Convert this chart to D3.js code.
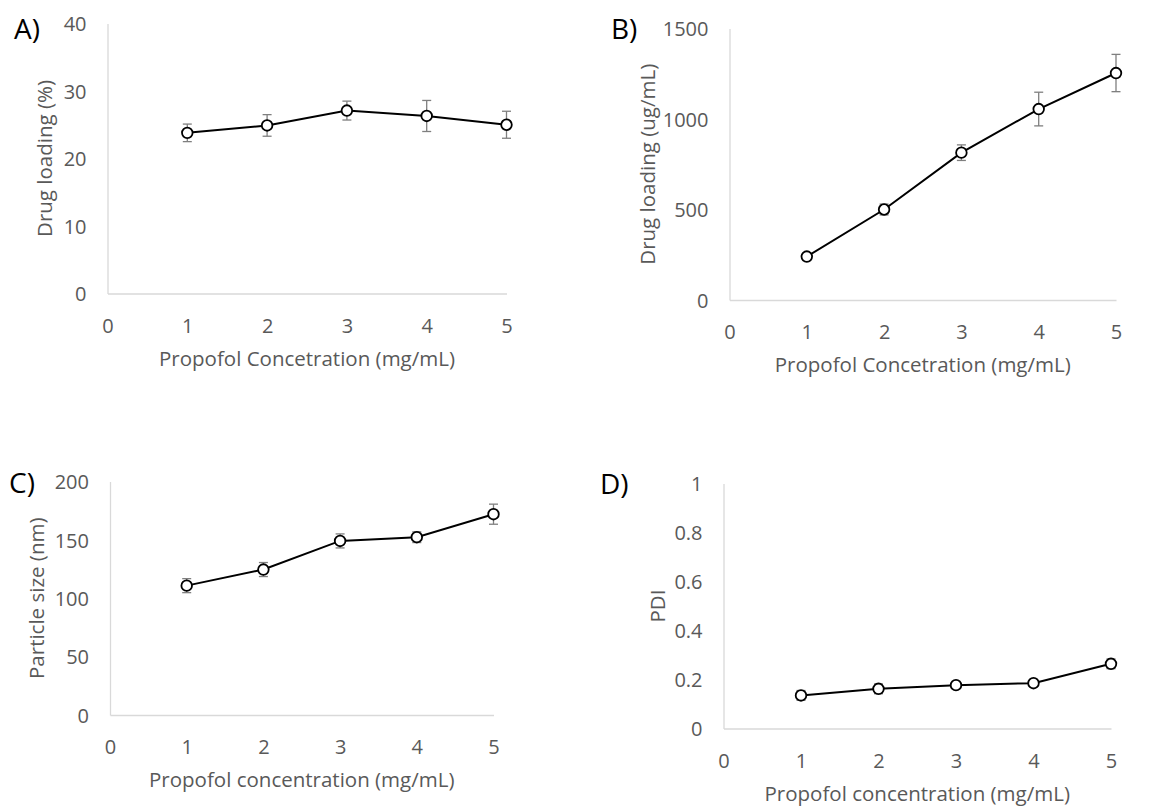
<!DOCTYPE html>
<head>
    <script src="https://d3js.org/d3.v7.min.js"></script>
</head>
<style>
body {
    margin: 0;
    background: #fff;
    font-family: "Open Sans", "Noto Sans", Arial, sans-serif;
}
.tick text { fill: #595959; font-family: "Open Sans", "Noto Sans", Arial, sans-serif; font-size: 20px; }
.domain { stroke: #d9d9d9; stroke-width: 1.3px; }
</style>
<body>
<svg id="fig"></svg>
</body>
<script>

    // Data
    var concentration = [1, 2, 3, 4, 5];
    var xTicks = [0, 1, 2, 3, 4, 5];

    var loadingPct    = [23.8, 24.9, 27.1, 26.3, 25.0];
    var loadingPctErr = [1.3, 1.6, 1.4, 2.3, 2.0];
    var loadingPctTicks = [0, 10, 20, 30, 40];

    var loadingUg    = [240, 500, 814, 1055, 1254];
    var loadingUgErr = [12, 30, 43, 93, 103];
    var loadingUgTicks = [0, 500, 1000, 1500];

    var sizeNm    = [110.8, 124.6, 149.1, 152.3, 172];
    var sizeNmErr = [6, 6, 6, 4.6, 8.6];
    var sizeNmTicks = [0, 50, 100, 150, 200];

    var pdi    = [0.135, 0.162, 0.177, 0.185, 0.264];
    var pdiErr = [0.02, 0.02, 0.01, 0.008, 0.02];
    var pdiTicks = [0, 0.2, 0.4, 0.6, 0.8, 1];

    // Layout of the four panels
    var panels = [
        { tag: "A)", tagX: 14, tagY: 29, x0: 107.5, x1: 506.5, y0: 293.5, y1: 23.5, yMax: 40,
          values: loadingPct, errors: loadingPctErr, ticks: loadingPctTicks, fmt: d3.format("d"),
          yTitle: "Drug loading (%)", yTitleX: 45, xTitle: "Propofol Concetration (mg/mL)" },
        { tag: "B)", tagX: 611, tagY: 29, x0: 729.5, x1: 1116, y0: 300, y1: 28.5, yMax: 1500,
          values: loadingUg, errors: loadingUgErr, ticks: loadingUgTicks, fmt: d3.format("d"),
          yTitle: "Drug loading (ug/mL)", yTitleX: 648, xTitle: "Propofol Concetration (mg/mL)" },
        { tag: "C)", tagX: 9, tagY: 483, x0: 110, x1: 493.5, y0: 715, y1: 481.5, yMax: 200,
          values: sizeNm, errors: sizeNmErr, ticks: sizeNmTicks, fmt: d3.format("d"),
          yTitle: "Particle size (nm)", yTitleX: 37, xTitle: "Propofol concentration (mg/mL)" },
        { tag: "D)", tagX: 600, tagY: 484, x0: 723.5, x1: 1111, y0: 728.5, y1: 483.5, yMax: 1,
          values: pdi, errors: pdiErr, ticks: pdiTicks, fmt: function (d) { return d === 0 || d === 1 ? String(d) : d3.format(".1f")(d); },
          yTitle: "PDI", yTitleX: 658, xTitle: "Propofol concentration (mg/mL)" }
    ];

    var svg = d3.select("#fig")
        .attr("width", 1165)
        .attr("height", 806);

    panels.forEach(drawPanel);

    function drawPanel(p) {
        var g = svg.append("g");

        var x = d3.scaleLinear().domain([0, 5]).range([p.x0, p.x1]);
        var y = d3.scaleLinear().domain([0, p.yMax]).range([p.y0, p.y1]);

        // y axis
        g.append("g")
            .attr("transform", "translate(" + p.x0 + ",0)")
            .call(d3.axisLeft(y).tickValues(p.ticks).tickFormat(p.fmt).tickSize(0).tickPadding(21))
            .selectAll("text").attr("dy", "0.36em");

        // x axis
        g.append("g")
            .attr("transform", "translate(0," + p.y0 + ")")
            .call(d3.axisBottom(x).tickValues(xTicks).tickFormat(d3.format("d")).tickSize(0).tickPadding(25));
        g.selectAll(".tick line").remove();

        // axis titles
        g.append("text")
            .attr("x", (p.x0 + p.x1) / 2)
            .attr("y", p.y0 + 72)
            .attr("text-anchor", "middle")
            .style("font-size", "20.5px")
            .style("fill", "#595959")
            .text(p.xTitle);

        g.append("text")
            .attr("transform", "translate(" + p.yTitleX + "," + (p.y0 + p.y1) / 2 + ")rotate(-90)")
            .attr("text-anchor", "middle")
            .attr("dy", "0.35em")
            .style("font-size", "20.5px")
            .style("fill", "#595959")
            .text(p.yTitle);

        // panel tag
        g.append("text")
            .attr("x", p.tagX)
            .attr("y", p.tagY)
            .attr("dy", "0.36em")
            .style("font-size", "28px")
            .style("fill", "#000")
            .text(p.tag);

        var pts = concentration.map(function (c, i) {
            return { c: c, v: p.values[i], e: p.errors[i] };
        });

        // error bars
        var eb = g.append("g").attr("stroke", "#7f7f7f").attr("stroke-width", 1.3);
        pts.forEach(function (d) {
            var cx = x(d.c);
            eb.append("line").attr("x1", cx).attr("x2", cx).attr("y1", y(d.v - d.e)).attr("y2", y(d.v + d.e));
            eb.append("line").attr("x1", cx - 4.5).attr("x2", cx + 4.5).attr("y1", y(d.v - d.e)).attr("y2", y(d.v - d.e));
            eb.append("line").attr("x1", cx - 4.5).attr("x2", cx + 4.5).attr("y1", y(d.v + d.e)).attr("y2", y(d.v + d.e));
        });

        // line
        var line = d3.line()
            .x(function (d) { return x(d.c); })
            .y(function (d) { return y(d.v); });

        g.append("path")
            .datum(pts)
            .attr("d", line)
            .attr("fill", "none")
            .attr("stroke", "#000")
            .attr("stroke-width", 2);

        // markers
        g.selectAll("circle.pt")
            .data(pts)
            .enter().append("circle")
            .attr("class", "pt")
            .attr("cx", function (d) { return x(d.c); })
            .attr("cy", function (d) { return y(d.v); })
            .attr("r", 5.3)
            .attr("fill", "#fff")
            .attr("stroke", "#000")
            .attr("stroke-width", 1.8);
    }

</script>
